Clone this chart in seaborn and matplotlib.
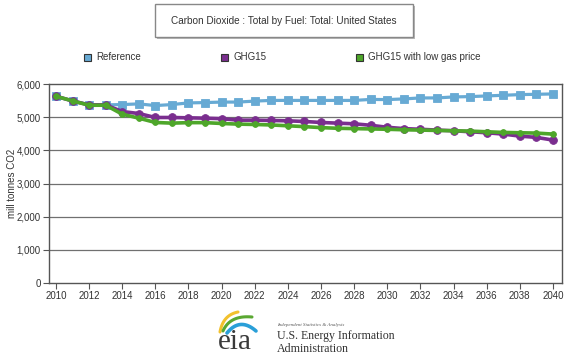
import numpy as np
import pandas as pd
import seaborn as sns
import matplotlib.pyplot as plt
from matplotlib.patches import Rectangle
from matplotlib.ticker import FuncFormatter

years = list(range(2010, 2041))
reference = [5630, 5490, 5370, 5370, 5380, 5400, 5350, 5380, 5430, 5440, 5455,
             5455, 5485, 5505, 5505, 5505, 5505, 5505, 5505, 5535, 5530,
             5550, 5580, 5580, 5610, 5620, 5640, 5660, 5680, 5690, 5700]
ghg15 = [5630, 5490, 5370, 5370, 5170, 5110, 4990, 4990, 4980, 4970, 4955,
         4910, 4910, 4900, 4890, 4870, 4840, 4820, 4800, 4755, 4695,
         4655, 4635, 4610, 4590, 4560, 4530, 4490, 4430, 4390, 4310]
low_gas = [5630, 5490, 5360, 5360, 5090, 4970, 4840, 4820, 4835, 4835, 4810,
           4790, 4780, 4765, 4740, 4715, 4685, 4665, 4655, 4645, 4635,
           4620, 4610, 4600, 4590, 4580, 4560, 4540, 4530, 4520, 4490]
series_names = ['Reference', 'GHG15', 'GHG15 with low gas price']
colors = ['#67aad4', '#7a2e8f', '#4ea62a']
title = 'Carbon Dioxide : Total by Fuel: Total: United States'
y_label = 'mill tonnes CO2'
y_ticks = [0, 1000, 2000, 3000, 4000, 5000, 6000]
x_ticks = list(range(2010, 2041, 2))

df = pd.DataFrame({'year': years, series_names[0]: reference,
                   series_names[1]: ghg15, series_names[2]: low_gas})

sns.set_theme(style='white')
plt.rcParams['font.family'] = ['Liberation Sans', 'DejaVu Sans']

W, H = 570, 356
fig = plt.figure(figsize=(W / 100, H / 100), dpi=100)
fig.patch.set_facecolor('white')

# Zone du graphique
ax = fig.add_axes([49 / W, 1 - 283 / H, (562 - 49) / W, (283 - 84) / H])

styles = [('s', 5.2, 2.3), ('o', 5.6, 2.6), ('o', 4.2, 2.6)]
for name, col, (mk, ms, lw) in zip(series_names, colors, styles):
    sns.lineplot(data=df, x='year', y=name, ax=ax, color=col, marker=mk,
                 markersize=ms, linewidth=lw, markeredgewidth=0.6,
                 markeredgecolor=col, legend=False)

ax.set_xlim(2009.58, 2040.55)
ax.set_ylim(0, 6000)
ax.set_yticks(y_ticks)
ax.set_xticks(x_ticks)
ax.yaxis.set_major_formatter(FuncFormatter(lambda v, p: f'{int(v):,}'))
ax.set_xlabel('')
ax.set_ylabel('')
for y in y_ticks[1:-1]:
    ax.axhline(y, color='#707070', linewidth=0.9, zorder=0)
for s in ax.spines.values():
    s.set_color('#555555')
    s.set_linewidth(1.0)
ax.tick_params(axis='both', which='major', length=4, width=0.8, color='#555555',
               labelsize=7, labelcolor='#333333', pad=2, direction='out')
ax.tick_params(axis='x', bottom=True)
ax.tick_params(axis='y', left=True)

fig.text(12 / W, 1 - 183 / H, y_label, rotation=90, ha='center', va='center',
         fontsize=7, color='#333333')

# Titre dans une boîte avec ombre
fig.add_artist(Rectangle((157 / W, 1 - 38.5 / H), 258 / W, 32.5 / H,
                         transform=fig.transFigure, facecolor='#b8b8b8',
                         edgecolor='none'))
fig.add_artist(Rectangle((155 / W, 1 - 36.5 / H), 258 / W, 32.5 / H,
                         transform=fig.transFigure, facecolor='white',
                         edgecolor='#888888', linewidth=1.0))
fig.text(284 / W, 1 - 20.5 / H, title, ha='center', va='center',
         fontsize=7.2, color='#333333')

# Légende
leg_x = [84, 221, 356]
for name, col, x in zip(series_names, colors, leg_x):
    fig.add_artist(Rectangle((x / W, 1 - 60.5 / H), 7 / W, 7 / H,
                             transform=fig.transFigure, facecolor=col,
                             edgecolor='#333333', linewidth=0.8))
    fig.text((x + 12) / W, 1 - 57 / H, name, ha='left', va='center',
             fontsize=7, color='#333333')

# Logo EIA (approximatif)
lx = fig.add_axes([0, 0, 1, 1], facecolor='none')
lx.set_xlim(0, W)
lx.set_ylim(H, 0)
lx.axis('off')
t = np.linspace(0, 1, 40)
for (x0, y0, xm, ym, x1, y1, col, w) in [
        (220, 332, 223, 315, 238, 312, '#f2c12e', 2.2),
        (223, 331, 230, 315, 252, 317, '#5aa832', 2.2),
        (227, 333, 240, 317, 256, 331, '#2a9fd8', 2.6)]:
    bx = (1 - t) ** 2 * x0 + 2 * (1 - t) * t * xm + t ** 2 * x1
    by = (1 - t) ** 2 * y0 + 2 * (1 - t) * t * ym + t ** 2 * y1
    lx.plot(bx, by, color=col, linewidth=w, solid_capstyle='round')
lx.text(235, 349, 'eia', ha='center', va='baseline', fontsize=21,
        family='Liberation Serif', color='#3a3a3a')
lx.text(277, 325, 'Independent Statistics & Analysis', ha='left', va='center',
        fontsize=3.6, family='Liberation Serif', style='italic', color='#555555')
lx.text(277, 336, 'U.S. Energy Information', ha='left', va='center',
        fontsize=8.6, family='Liberation Serif', color='#333333')
lx.text(277, 348.5, 'Administration', ha='left', va='center',
        fontsize=8.6, family='Liberation Serif', color='#333333')

fig.savefig('out.png', dpi=100, facecolor='white')
